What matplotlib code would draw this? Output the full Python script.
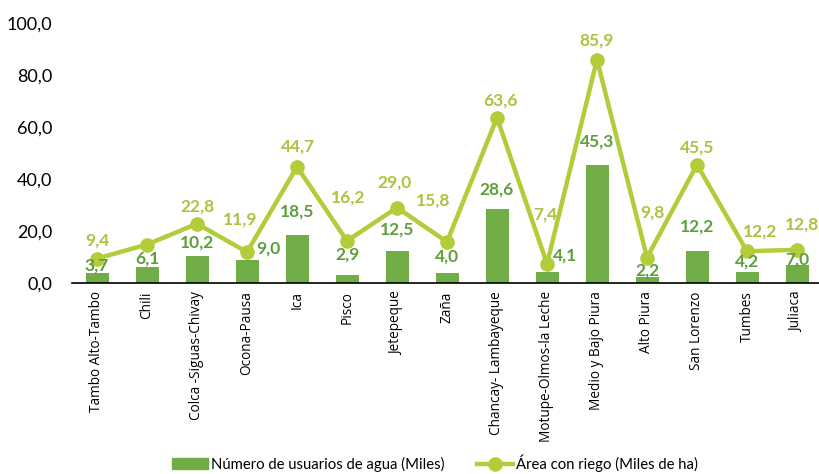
import numpy as np
from matplotlib import pyplot as plt
from matplotlib.lines import Line2D
from matplotlib.patches import Patch
from matplotlib import font_manager

# Data
cuencas = ["Tambo Alto-Tambo", "Chili", "Colca -Siguas-Chivay", "Ocona-Pausa", "Ica",
           "Pisco", "Jetepeque", "Zaña", "Chancay- Lambayeque", "Motupe-Olmos-la Leche",
           "Medio y Bajo Piura", "Alto Piura", "San Lorenzo", "Tumbes", "Juliaca"]
usuarios = [3.7, 6.1, 10.2, 9.0, 18.5, 2.9, 12.5, 4.0, 28.6, 4.1, 45.3, 2.2, 12.2, 4.2, 7.0]
usuarios_altura = [3.7, 6.1, 10.2, 8.7, 18.5, 2.9, 12.5, 4.0, 28.6, 4.1, 45.3, 2.2, 12.2, 4.2, 7.0]
area = [9.4, 14.8, 22.8, 11.9, 44.7, 16.2, 29.0, 15.8, 63.6, 7.4, 85.9, 9.8, 45.5, 12.2, 12.8]
area_label = [True, False, True, True, True, True, True, True, True, True, True, True, True, True, True]

# label offsets in pixels (dx, dy)
off_area = [(0, 18), (0, 0), (0, 17), (-7, 33), (1, 20), (1, 43), (-2, 25), (-14, 41),
            (3, 17), (-2, 49), (0, 19), (5, 45), (0, 17), (13, 20), (5, 25)]
off_usu = [(0, 8), (0, 9), (0, 14), (21, 12), (0, 23), (0, 21), (0, 21), (0, 16),
           (0, 19), (18, 17), (0, 24), (0, 7), (0, 25), (0, 11), (0, 5)]

c_bar = "#70AD47"
c_bar_txt = "#5E9E3C"
c_line = "#B2CC3A"
c_line_txt = "#ABC33F"

# narrow font for the legend if there is one
names = {f.name for f in font_manager.fontManager.ttflist}
legend_family = "Liberation Sans Narrow" if "Liberation Sans Narrow" in names else "Lato"

fig = plt.figure(figsize=(8.19, 4.74), dpi=100)
ax = fig.add_axes([72 / 819, 1 - 283 / 474, 1 - 72 / 819, 260 / 474])

x = np.arange(len(cuencas))
ax.bar(x, usuarios_altura, width=0.46, color=c_bar, zorder=2)
ax.plot(x, area, color=c_line, lw=3.2, marker="o", ms=9.5, zorder=3)

lab_font = dict(family="Lato", fontsize=12.5, fontweight="bold")
for i in range(len(x)):
    ax.annotate(f"{usuarios[i]:.1f}".replace(".", ","), (x[i], usuarios_altura[i]),
                xytext=off_usu[i], textcoords="offset pixels", ha="center", va="center",
                color=c_bar_txt, zorder=4, **lab_font)
    if area_label[i]:
        ax.annotate(f"{area[i]:.1f}".replace(".", ","), (x[i], area[i]),
                    xytext=off_area[i], textcoords="offset pixels", ha="center", va="center",
                    color=c_line_txt, zorder=4, **lab_font)

ax.set_xlim(-0.5, 14.44)
ax.set_ylim(0, 100)
ax.set_yticks(np.arange(0, 101, 20))
ax.set_yticklabels([f"{v:.1f}".replace(".", ",") for v in np.arange(0, 101, 20)],
                   fontsize=13, family="Lato")
ax.set_xticks(x)
ax.set_xticklabels(cuencas, rotation=90, family="Open Sans", fontsize=9.8)
ax.tick_params(axis="y", length=0, pad=14)
ax.tick_params(axis="x", length=0, pad=6)
for s in ["top", "right", "left"]:
    ax.spines[s].set_visible(False)
ax.spines["bottom"].set_color("black")
ax.spines["bottom"].set_linewidth(1.2)
ax.spines["bottom"].set_zorder(5)

handles = [Patch(color=c_bar), Line2D([], [], color=c_line, lw=3.2, marker="o", ms=9.5)]
fig.legend(handles, ["Número de usuarios de agua (Miles)", "Área con riego (Miles de ha)"],
           loc="center", bbox_to_anchor=(435 / 819, 1 - 463 / 474), ncol=2, frameon=False,
           prop=dict(family=legend_family, size=10.7), handlelength=2.4,
           handletextpad=0.2, columnspacing=2.2)

fig.savefig("out.png", dpi=100)
